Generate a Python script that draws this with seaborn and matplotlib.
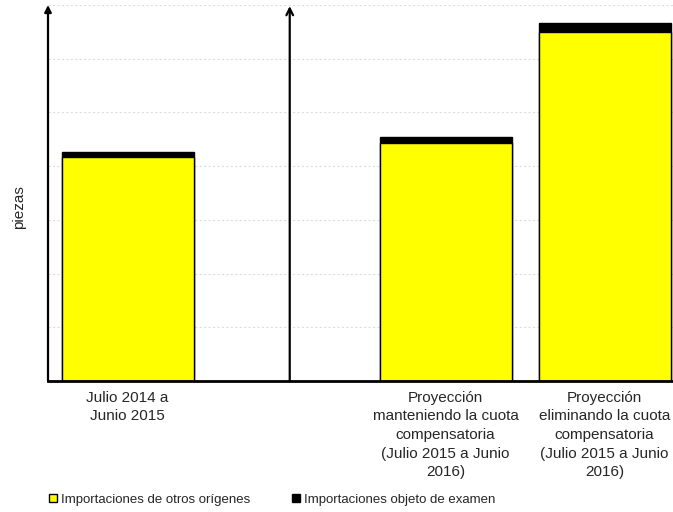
import numpy as np
import pandas as pd
import matplotlib
matplotlib.use('Agg')
import matplotlib.pyplot as plt
import seaborn as sns
from matplotlib.patches import Patch

# data (units, no numeric scale shown)
categories = [
    "Julio 2014 a\nJunio 2015",
    " ",
    "Proyección\nmanteniendo la cuota\ncompensatoria\n(Julio 2015 a Junio\n2016)",
    "Proyección\neliminando la cuota\ncompensatoria\n(Julio 2015 a Junio\n2016)",
]
otros_origenes = [4.17, np.nan, 4.43, 6.50]
objeto_examen = [0.09, np.nan, 0.11, 0.17]
series_names = ["Importaciones de otros orígenes", "Importaciones objeto de examen"]

df = pd.DataFrame({"cat": categories, "otros": otros_origenes, "examen": objeto_examen})
df["total"] = df["otros"] + df["examen"]

sns.set_style("white")
plt.rcParams['font.family'] = ['Liberation Sans', 'DejaVu Sans']

fig = plt.figure(figsize=(6.73, 5.12), dpi=100)
ax = fig.add_axes([48 / 673, 131 / 512, 625 / 673, 376 / 512])

# stacked: black total underneath, yellow lower part on top of it
sns.barplot(data=df, x="cat", y="total", order=categories, color="black",
            width=0.83, edgecolor="black", linewidth=1, saturation=1, ax=ax)
sns.barplot(data=df, x="cat", y="otros", order=categories, color="#ffff00",
            width=0.83, edgecolor="black", linewidth=1, saturation=1, ax=ax)

ax.set_xlim(-0.5, 3.43)
ax.set_ylim(0, 7)
ax.set_yticks(np.arange(1, 8))
ax.set_yticklabels([])
ax.yaxis.grid(True, color="#dddddd", linestyle=(0, (2, 2)), linewidth=0.8)
ax.set_axisbelow(True)
for s in ["top", "right", "left"]:
    ax.spines[s].set_visible(False)
ax.spines["bottom"].set_linewidth(2)
ax.spines["bottom"].set_color("black")

ax.tick_params(axis="x", length=0, pad=7, labelsize=11)
ax.tick_params(axis="y", length=0)
for lbl in ax.get_xticklabels():
    lbl.set_linespacing(1.42)
ax.set_xlabel("")
ax.set_ylabel("piezas", fontsize=11)
ax.yaxis.set_label_coords(-0.035, 0.463)

# axis arrows
ax.annotate("", xy=(-0.5, 7.0), xytext=(-0.5, 0), xycoords="data",
            arrowprops=dict(arrowstyle="-|>", color="black", lw=1.6,
                            mutation_scale=10, shrinkA=0, shrinkB=0),
            annotation_clip=False)
ax.annotate("", xy=(1.02, 6.98), xytext=(1.02, 0), xycoords="data",
            arrowprops=dict(arrowstyle="->", color="black", lw=1.6,
                            mutation_scale=12, shrinkA=0, shrinkB=0),
            annotation_clip=False)

handles = [Patch(facecolor="#ffff00", edgecolor="black", linewidth=1),
           Patch(facecolor="black", edgecolor="black", linewidth=1)]
fig.legend(handles, series_names, loc="center left", bbox_to_anchor=(0.055, 0.024),
           ncol=2, frameon=False, fontsize=9.5, handlelength=0.6, handleheight=0.6,
           handletextpad=0.3, columnspacing=3.2)

fig.savefig("out.png", dpi=100)
